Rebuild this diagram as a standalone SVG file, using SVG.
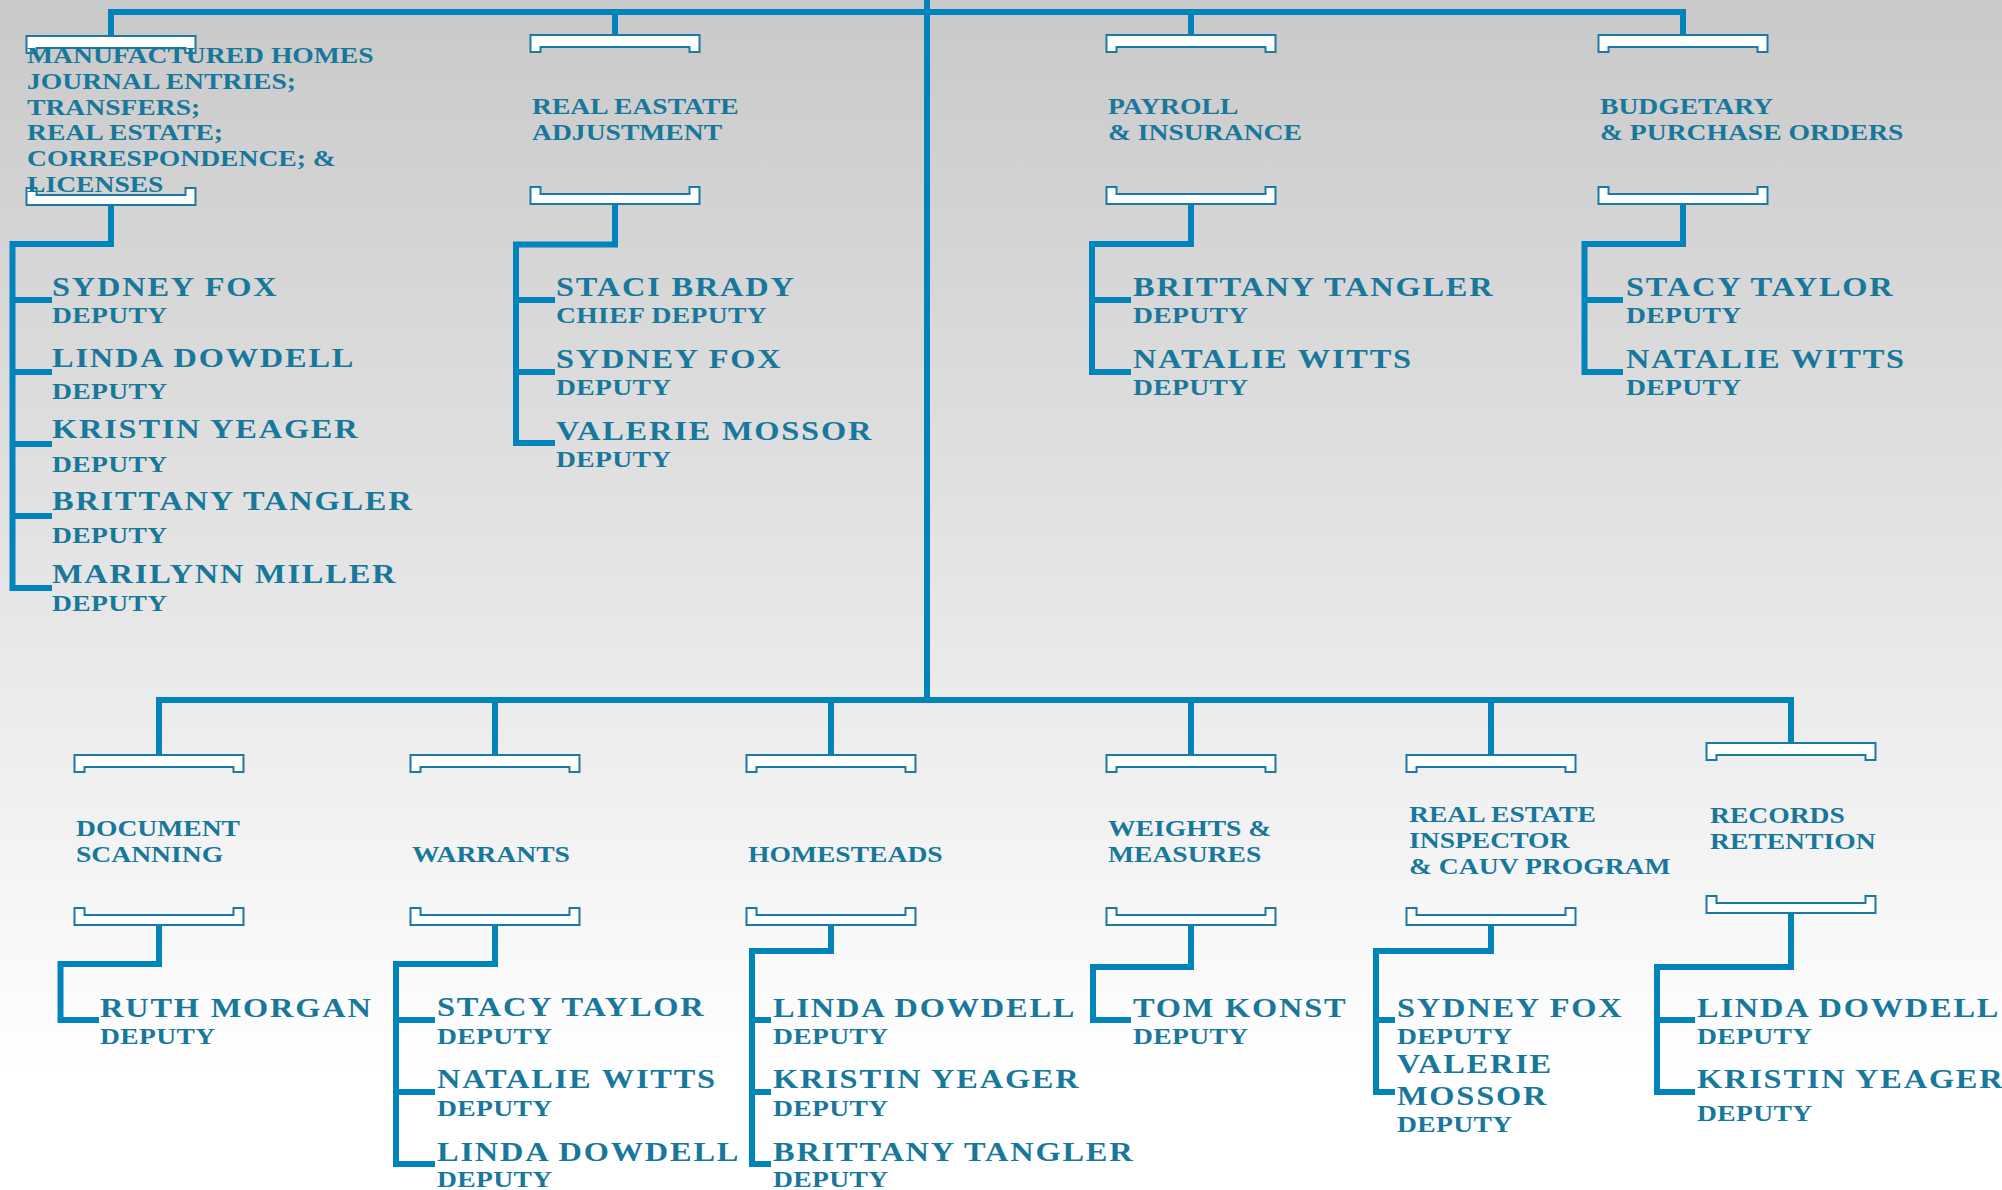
<svg xmlns="http://www.w3.org/2000/svg" width="2002" height="1190" viewBox="0 0 2002 1190">
<defs>
<linearGradient id="bg" x1="0" y1="0" x2="0" y2="1">
<stop offset="0" stop-color="#c9c9c9"/>
<stop offset="0.5" stop-color="#e6e6e6"/>
<stop offset="0.9" stop-color="#ffffff"/>
<stop offset="1" stop-color="#ffffff"/>
</linearGradient>
<path id="bt" d="M-84.5,0 H84.5 V17 H74.5 V12 H-74.5 V17 H-84.5 Z"/>
<path id="bb" d="M-84.5,0 H-74.5 V7 H74.5 V0 H84.5 V17 H-84.5 Z"/>
<style>
.ln{fill:none;stroke:#0084bb;stroke-width:6;stroke-linejoin:miter;stroke-linecap:butt}
.br{fill:#ffffff;stroke:#1b7aa0;stroke-width:2}
text{font-family:"Liberation Serif","DejaVu Serif",serif;font-weight:bold;fill:#17789c}
.t{font-size:23px;letter-spacing:0px}
.n{font-size:27px;letter-spacing:1.5px}
.r{font-size:23px;letter-spacing:0.3px}
</style>
</defs>
<rect x="0" y="0" width="2002" height="1190" fill="url(#bg)"/>

<g id="connectors">
<path class="ln" d="M927,0 V700"/>
<path class="ln" d="M111,36 V12 H1683 V36"/>
<path class="ln" d="M615,12 V36 M1191,12 V36"/>
<path class="ln" d="M159,756 V700 H1791 V744"/>
<path class="ln" d="M495,700 V756 M831,700 V756 M1191,700 V756 M1491,700 V756"/>

<path class="ln" d="M111,204 V244 H12.5 V591"/>
<path class="ln" d="M12.5,300 H52 M12.5,372 H52 M12.5,444 H52 M12.5,516 H52 M12.5,588 H52"/>
<path class="ln" d="M615,204 V244.5 H516 V446"/>
<path class="ln" d="M516,300 H555 M516,372 H555 M516,443 H555"/>
<path class="ln" d="M1191,204 V244 H1092 V375"/>
<path class="ln" d="M1092,300 H1131 M1092,372 H1131"/>
<path class="ln" d="M1683,204 V244 H1584.5 V375"/>
<path class="ln" d="M1584.5,300 H1623 M1584.5,372 H1623"/>

<path class="ln" d="M159,924 V964 H60.5 V1023"/>
<path class="ln" d="M60.5,1020 H99"/>
<path class="ln" d="M495,924 V964 H396 V1167"/>
<path class="ln" d="M396,1020 H435 M396,1092 H435 M396,1164 H435"/>
<path class="ln" d="M831,924 V951 H752 V1167"/>
<path class="ln" d="M752,1020 H771 M752,1092 H771 M752,1164 H771"/>
<path class="ln" d="M1191,924 V967 H1093 V1023"/>
<path class="ln" d="M1093,1020 H1131"/>
<path class="ln" d="M1491,924 V951 H1376 V1095"/>
<path class="ln" d="M1376,1020 H1395 M1376,1092 H1395"/>
<path class="ln" d="M1791,912 V967 H1657 V1095"/>
<path class="ln" d="M1657,1020 H1695 M1657,1092 H1695"/>
</g>

<g id="dept-manufactured-homes">
<use href="#bt" class="br" x="111" y="36"/>
<use href="#bb" class="br" x="111" y="188"/>
<g transform="translate(27,0) scale(1.2,1)">
<text class="t" x="0" y="63">MANUFACTURED HOMES</text>
<text class="t" x="0" y="89">JOURNAL ENTRIES;</text>
<text class="t" x="0" y="115">TRANSFERS;</text>
<text class="t" x="0" y="140">REAL ESTATE;</text>
<text class="t" x="0" y="166">CORRESPONDENCE; &amp;</text>
<text class="t" x="0" y="192">LICENSES</text>
</g>
</g>
<g transform="translate(52,0) scale(1.2,1)">
<g id="p-mh-sydney-fox"><text class="n" x="0" y="296">SYDNEY FOX</text><text class="r" x="0" y="323">DEPUTY</text></g>
<g id="p-mh-linda-dowdell"><text class="n" x="0" y="367">LINDA DOWDELL</text><text class="r" x="0" y="399">DEPUTY</text></g>
<g id="p-mh-kristin-yeager"><text class="n" x="0" y="438">KRISTIN YEAGER</text><text class="r" x="0" y="472">DEPUTY</text></g>
<g id="p-mh-brittany-tangler"><text class="n" x="0" y="510">BRITTANY TANGLER</text><text class="r" x="0" y="543">DEPUTY</text></g>
<g id="p-mh-marilynn-miller"><text class="n" x="0" y="583">MARILYNN MILLER</text><text class="r" x="0" y="611">DEPUTY</text></g>
</g>

<g id="dept-real-estate-adjustment">
<use href="#bt" class="br" x="615" y="35"/>
<use href="#bb" class="br" x="615" y="187"/>
<g transform="translate(532,0) scale(1.2,1)">
<text class="t" x="0" y="114">REAL EASTATE</text>
<text class="t" x="0" y="140">ADJUSTMENT</text>
</g>
</g>
<g transform="translate(556,0) scale(1.2,1)">
<g id="p-rea-staci-brady"><text class="n" x="0" y="296">STACI BRADY</text><text class="r" x="0" y="323">CHIEF DEPUTY</text></g>
<g id="p-rea-sydney-fox"><text class="n" x="0" y="368">SYDNEY FOX</text><text class="r" x="0" y="395">DEPUTY</text></g>
<g id="p-rea-valerie-mossor"><text class="n" x="0" y="440">VALERIE MOSSOR</text><text class="r" x="0" y="467">DEPUTY</text></g>
</g>

<g id="dept-payroll">
<use href="#bt" class="br" x="1191" y="35"/>
<use href="#bb" class="br" x="1191" y="187"/>
<g transform="translate(1108,0) scale(1.2,1)">
<text class="t" x="0" y="114">PAYROLL</text>
<text class="t" x="0" y="140">&amp; INSURANCE</text>
</g>
</g>
<g transform="translate(1133,0) scale(1.2,1)">
<g id="p-pay-brittany-tangler"><text class="n" x="0" y="296">BRITTANY TANGLER</text><text class="r" x="0" y="323">DEPUTY</text></g>
<g id="p-pay-natalie-witts"><text class="n" x="0" y="368">NATALIE WITTS</text><text class="r" x="0" y="395">DEPUTY</text></g>
</g>

<g id="dept-budgetary">
<use href="#bt" class="br" x="1683" y="35"/>
<use href="#bb" class="br" x="1683" y="187"/>
<g transform="translate(1600,0) scale(1.2,1)">
<text class="t" x="0" y="114">BUDGETARY</text>
<text class="t" x="0" y="140">&amp; PURCHASE ORDERS</text>
</g>
</g>
<g transform="translate(1626,0) scale(1.2,1)">
<g id="p-bud-stacy-taylor"><text class="n" x="0" y="296">STACY TAYLOR</text><text class="r" x="0" y="323">DEPUTY</text></g>
<g id="p-bud-natalie-witts"><text class="n" x="0" y="368">NATALIE WITTS</text><text class="r" x="0" y="395">DEPUTY</text></g>
</g>

<g id="dept-document-scanning">
<use href="#bt" class="br" x="159" y="755"/>
<use href="#bb" class="br" x="159" y="908"/>
<g transform="translate(76,0) scale(1.2,1)">
<text class="t" x="0" y="836">DOCUMENT</text>
<text class="t" x="0" y="862">SCANNING</text>
</g>
</g>
<g transform="translate(100,0) scale(1.2,1)">
<g id="p-ds-ruth-morgan"><text class="n" x="0" y="1017">RUTH MORGAN</text><text class="r" x="0" y="1044">DEPUTY</text></g>
</g>

<g id="dept-warrants">
<use href="#bt" class="br" x="495" y="755"/>
<use href="#bb" class="br" x="495" y="908"/>
<g transform="translate(412,0) scale(1.2,1)">
<text class="t" x="0" y="862">WARRANTS</text>
</g>
</g>
<g transform="translate(437,0) scale(1.2,1)">
<g id="p-war-stacy-taylor"><text class="n" x="0" y="1016">STACY TAYLOR</text><text class="r" x="0" y="1044">DEPUTY</text></g>
<g id="p-war-natalie-witts"><text class="n" x="0" y="1088">NATALIE WITTS</text><text class="r" x="0" y="1116">DEPUTY</text></g>
<g id="p-war-linda-dowdell"><text class="n" x="0" y="1161">LINDA DOWDELL</text><text class="r" x="0" y="1187">DEPUTY</text></g>
</g>

<g id="dept-homesteads">
<use href="#bt" class="br" x="831" y="755"/>
<use href="#bb" class="br" x="831" y="908"/>
<g transform="translate(748,0) scale(1.2,1)">
<text class="t" x="0" y="862">HOMESTEADS</text>
</g>
</g>
<g transform="translate(773,0) scale(1.2,1)">
<g id="p-hs-linda-dowdell"><text class="n" x="0" y="1017">LINDA DOWDELL</text><text class="r" x="0" y="1044">DEPUTY</text></g>
<g id="p-hs-kristin-yeager"><text class="n" x="0" y="1088">KRISTIN YEAGER</text><text class="r" x="0" y="1116">DEPUTY</text></g>
<g id="p-hs-brittany-tangler"><text class="n" x="0" y="1161">BRITTANY TANGLER</text><text class="r" x="0" y="1187">DEPUTY</text></g>
</g>

<g id="dept-weights-measures">
<use href="#bt" class="br" x="1191" y="755"/>
<use href="#bb" class="br" x="1191" y="908"/>
<g transform="translate(1108,0) scale(1.2,1)">
<text class="t" x="0" y="836">WEIGHTS &amp;</text>
<text class="t" x="0" y="862">MEASURES</text>
</g>
</g>
<g transform="translate(1133,0) scale(1.2,1)">
<g id="p-wm-tom-konst"><text class="n" x="0" y="1017">TOM KONST</text><text class="r" x="0" y="1044">DEPUTY</text></g>
</g>

<g id="dept-real-estate-inspector">
<use href="#bt" class="br" x="1491" y="755"/>
<use href="#bb" class="br" x="1491" y="908"/>
<g transform="translate(1409,0) scale(1.2,1)">
<text class="t" x="0" y="822">REAL ESTATE</text>
<text class="t" x="0" y="848">INSPECTOR</text>
<text class="t" x="0" y="874">&amp; CAUV PROGRAM</text>
</g>
</g>
<g transform="translate(1397,0) scale(1.2,1)">
<g id="p-rei-sydney-fox"><text class="n" x="0" y="1017">SYDNEY FOX</text><text class="r" x="0" y="1044">DEPUTY</text></g>
<g id="p-rei-valerie-mossor"><text class="n" x="0" y="1073">VALERIE</text><text class="n" x="0" y="1105">MOSSOR</text><text class="r" x="0" y="1132">DEPUTY</text></g>
</g>

<g id="dept-records-retention">
<use href="#bt" class="br" x="1791" y="743"/>
<use href="#bb" class="br" x="1791" y="896"/>
<g transform="translate(1710,0) scale(1.2,1)">
<text class="t" x="0" y="823">RECORDS</text>
<text class="t" x="0" y="849">RETENTION</text>
</g>
</g>
<g transform="translate(1697,0) scale(1.2,1)">
<g id="p-rr-linda-dowdell"><text class="n" x="0" y="1017">LINDA DOWDELL</text><text class="r" x="0" y="1044">DEPUTY</text></g>
<g id="p-rr-kristin-yeager"><text class="n" x="0" y="1088">KRISTIN YEAGER</text><text class="r" x="0" y="1121">DEPUTY</text></g>
</g>
</svg>
